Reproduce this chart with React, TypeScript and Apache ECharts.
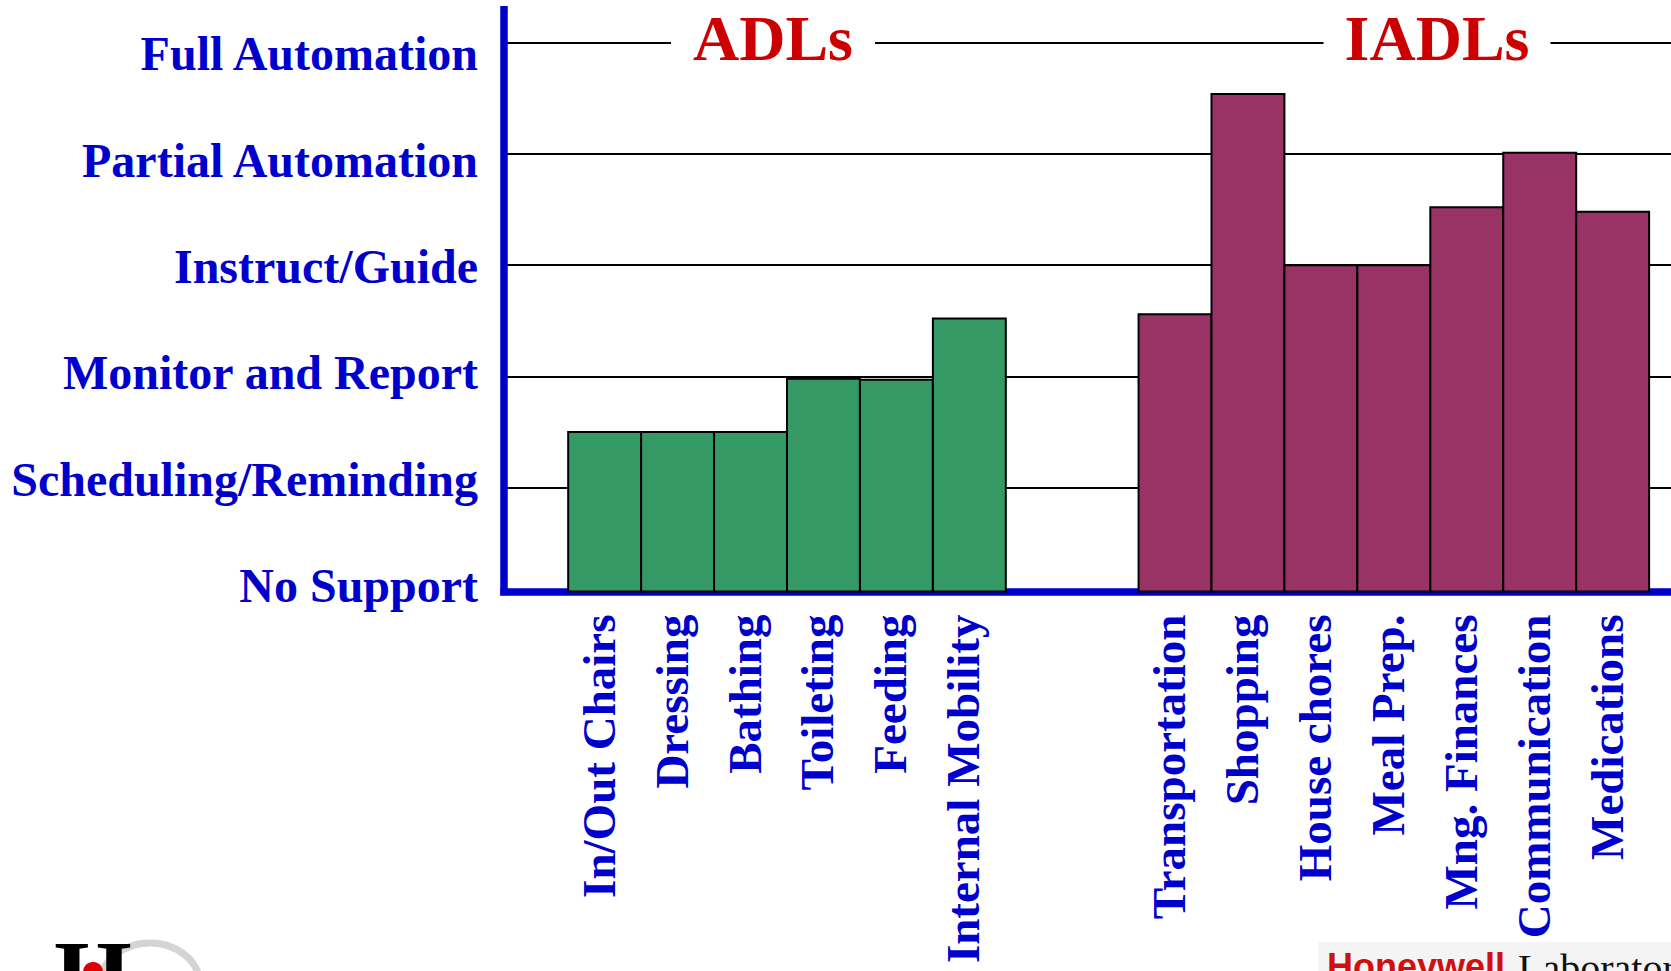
import React, { useEffect, useRef } from "react";
import * as echarts from "echarts";

// ---- data ----
const levelLabels = [
  "No Support",
  "Scheduling/Reminding",
  "Monitor and Report",
  "Instruct/Guide",
  "Partial Automation",
  "Full Automation",
];
const adlCategories = ["In/Out Chairs", "Dressing", "Bathing", "Toileting", "Feeding", "Internal Mobility"];
const adlValues = [1.5, 1.5, 1.5, 1.98, 1.97, 2.52];
const iadlCategories = [
  "Transportation",
  "Shopping",
  "House chores",
  "Meal Prep.",
  "Mng. Finances",
  "Communication",
  "Medications",
];
const iadlValues = [2.56, 4.54, 3.0, 3.0, 3.52, 4.01, 3.48];
const groupTitles = ["ADLs", "IADLs"];

// ---- layout / style ----
const W = 1671;
const H = 971;
const BLUE = "#0000CC";
const RED = "#CC0000";
const GREEN = "#359966";
const PURPLE = "#993366";
const ADL_START = 0.88;
const IADL_START = 8.7;
const X_MAX = 16;
const AXIS_X = 504;
const BASE_Y = 591.5; // drawn baseline (blue axis line)
const ZERO_Y = 599; // value 0 of the level scale

function makeBars(names: string[], values: number[], start: number, color: string) {
  return {
    type: "custom",
    xAxisIndex: 0,
    yAxisIndex: 0,
    clip: false,
    silent: true,
    z: 3,
    data: values.map((v, i) => [start + i, v]),
    renderItem: (params: any, api: any) => {
      const x0 = api.value(0) as number;
      const v = api.value(1) as number;
      const tl = api.coord([x0, v]);
      const br = api.coord([x0 + 1, 0]);
      const bottom = Math.min(br[1], BASE_Y);
      const cx = (tl[0] + br[0]) / 2;
      return {
        type: "group",
        children: [
          {
            type: "rect",
            shape: { x: tl[0], y: tl[1], width: br[0] - tl[0], height: bottom - tl[1] },
            style: { fill: color, stroke: "#000", lineWidth: 2 },
          },
          {
            type: "text",
            x: cx - 6,
            y: bottom + 23,
            rotation: Math.PI / 2,
            style: {
              text: names[params.dataIndex],
              fill: BLUE,
              fontSize: 47,
              fontWeight: "bold",
              fontFamily: "Liberation Serif",
              align: "right",
              verticalAlign: "middle",
            },
          },
        ],
      };
    },
  };
}

export default function App() {
  const ref = useRef<HTMLDivElement>(null);
  useEffect(() => {
    if (!ref.current) return;
    const chart = echarts.init(ref.current, undefined, { renderer: "svg" });
    const option: any = {
      animation: false,
      backgroundColor: "#ffffff",
      grid: [
        // data grid (level scale)
        { left: AXIS_X, right: 0, top: 42.7, bottom: H - ZERO_Y },
        // level labels
        { left: AXIS_X, right: 0, top: 53.8, bottom: H - 585.5 },
        // frame (blue axis lines)
        { left: AXIS_X, right: 0, top: 9.75, bottom: H - BASE_Y },
      ],
      xAxis: [
        { type: "value", gridIndex: 0, min: 0, max: X_MAX, show: false },
        { type: "value", gridIndex: 1, min: 0, max: 1, show: false },
        {
          type: "value",
          gridIndex: 2,
          min: 0,
          max: 1,
          axisLine: { show: true, lineStyle: { color: BLUE, width: 7.5, cap: "square" } },
          axisTick: { show: false },
          axisLabel: { show: false },
          splitLine: { show: false },
        },
      ],
      yAxis: [
        {
          type: "value",
          gridIndex: 0,
          min: 0,
          max: 5,
          interval: 1,
          axisLine: { show: false },
          axisTick: { show: false },
          axisLabel: { show: false },
          splitLine: {
            show: true,
            showMinLine: false,
            showMaxLine: true,
            lineStyle: { color: "#000", width: 2 },
          },
        },
        {
          type: "category",
          gridIndex: 1,
          data: levelLabels,
          boundaryGap: false,
          axisLine: { show: false },
          axisTick: { show: false },
          splitLine: { show: false },
          axisLabel: {
            show: true,
            interval: 0,
            margin: 26,
            color: BLUE,
            fontSize: 48,
            fontWeight: "bold",
            fontFamily: "Liberation Serif",
          },
        },
        {
          type: "value",
          gridIndex: 2,
          min: 0,
          max: 1,
          axisLine: { show: true, lineStyle: { color: BLUE, width: 7.5, cap: "square" } },
          axisTick: { show: false },
          axisLabel: { show: false },
          splitLine: { show: false },
        },
      ],
      series: [
        makeBars(adlCategories, adlValues, ADL_START, GREEN),
        makeBars(iadlCategories, iadlValues, IADL_START, PURPLE),
      ],
      graphic: [
        {
          type: "text",
          x: 773,
          y: 38,
          z: 100,
          style: {
            text: groupTitles[0],
            fill: RED,
            fontSize: 64,
            fontWeight: "bold",
            fontFamily: "Liberation Serif",
            align: "center",
            verticalAlign: "middle",
            backgroundColor: "#ffffff",
            padding: [6, 22],
          },
        },
        {
          type: "text",
          x: 1437,
          y: 38,
          z: 100,
          style: {
            text: groupTitles[1],
            fill: RED,
            fontSize: 64,
            fontWeight: "bold",
            fontFamily: "Liberation Serif",
            align: "center",
            verticalAlign: "middle",
            backgroundColor: "#ffffff",
            padding: [6, 21],
          },
        },
        // left logo
        {
          type: "ellipse",
          z: 100,
          shape: { cx: 150, cy: 985, rx: 50, ry: 42 },
          style: { fill: "none", stroke: "#d4d4d4", lineWidth: 7 },
        },
        {
          type: "text",
          x: 93,
          y: 975,
          z: 101,
          style: {
            text: "H",
            fill: "#000",
            fontSize: 100,
            fontWeight: "bold",
            fontFamily: "Liberation Serif",
            align: "center",
            verticalAlign: "middle",
          },
        },
        {
          type: "circle",
          z: 102,
          shape: { cx: 93, cy: 972, r: 10 },
          style: { fill: "#e00000" },
        },
        // right logo
        {
          type: "rect",
          z: 100,
          shape: { x: 1318, y: 942, width: W - 1318, height: H - 942 },
          style: { fill: "#f4f4f4" },
        },
        {
          type: "text",
          x: 1327,
          y: 966,
          z: 101,
          style: {
            text: "Honeywell",
            fill: "#d01010",
            fontSize: 36,
            fontWeight: "bold",
            fontFamily: "Liberation Sans",
            align: "left",
            verticalAlign: "middle",
          },
        },
        {
          type: "text",
          x: 1518,
          y: 968,
          z: 101,
          style: {
            text: "Laboratories",
            fill: "#111",
            fontSize: 40,
            fontFamily: "Liberation Serif",
            align: "left",
            verticalAlign: "middle",
          },
        },
      ],
    };
    chart.setOption(option);
    return () => chart.dispose();
  }, []);
  return (
    <div
      ref={ref}
      style={{ position: "fixed", left: 0, top: 0, width: W, height: H, background: "#fff" }}
    />
  );
}
